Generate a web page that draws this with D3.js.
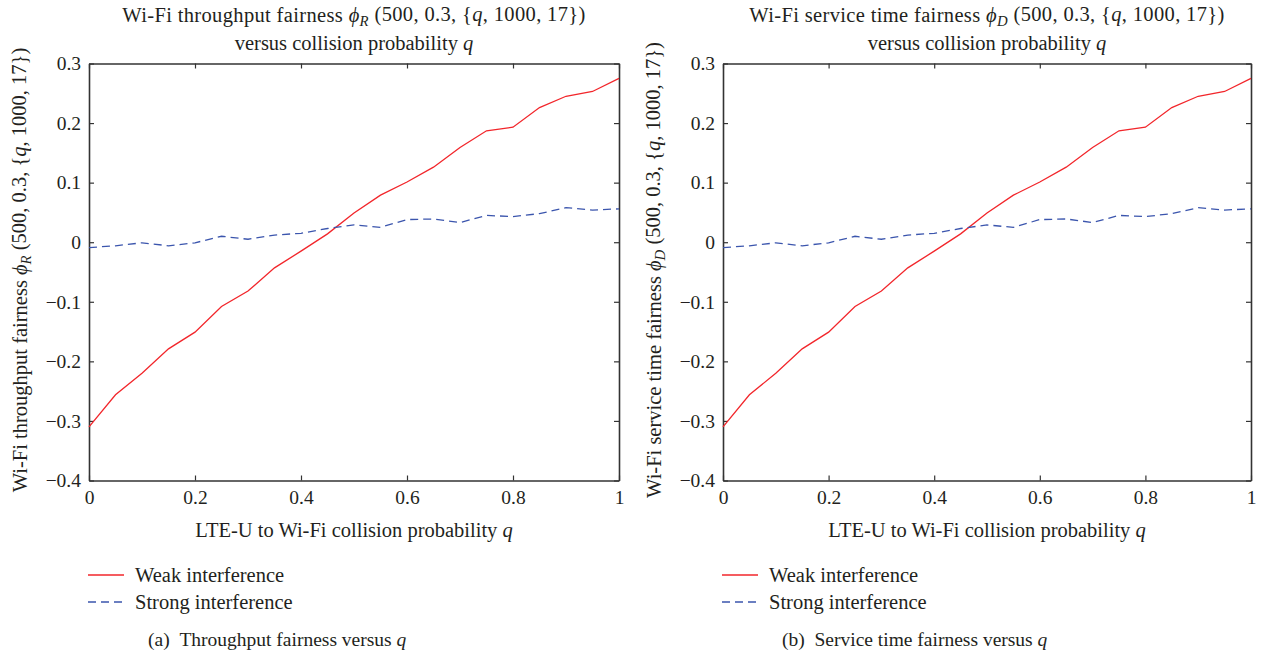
<!DOCTYPE html>
<html>
<head>
<meta charset="utf-8">
<script src="https://cdn.jsdelivr.net/npm/d3@7"></script>
<style>
  html, body { margin: 0; padding: 0; background: #fff; }
  svg { display: block; }
  text { font-family: "Liberation Serif", "Times New Roman", serif; fill: #231f20; }
</style>
</head>
<body>
<svg id="chart" width="1264" height="656"></svg>
<script>
// ---- data ----
const qValues = [0, 0.05, 0.1, 0.15, 0.2, 0.25, 0.3, 0.35, 0.4, 0.45, 0.5, 0.55, 0.6, 0.65, 0.7, 0.75, 0.8, 0.85, 0.9, 0.95, 1];
const throughputWeak   = [-0.310, -0.256, -0.220, -0.179, -0.151, -0.108, -0.082, -0.043, -0.015, 0.014, 0.049, 0.079, 0.101, 0.126, 0.159, 0.187, 0.193, 0.226, 0.245, 0.253, 0.275];
const throughputStrong = [-0.009, -0.006, -0.001, -0.006, -0.001, 0.010, 0.005, 0.012, 0.015, 0.023, 0.029, 0.025, 0.038, 0.039, 0.033, 0.045, 0.043, 0.048, 0.058, 0.054, 0.056];
const serviceWeak      = [-0.310, -0.256, -0.220, -0.179, -0.151, -0.108, -0.082, -0.043, -0.015, 0.014, 0.049, 0.079, 0.101, 0.126, 0.159, 0.187, 0.193, 0.226, 0.245, 0.253, 0.275];
const serviceStrong    = [-0.009, -0.006, -0.001, -0.006, -0.001, 0.010, 0.005, 0.012, 0.015, 0.023, 0.029, 0.025, 0.038, 0.039, 0.033, 0.045, 0.043, 0.048, 0.058, 0.054, 0.056];
const xTicks = [0, 0.2, 0.4, 0.6, 0.8, 1];
const yTicks = [0.3, 0.2, 0.1, 0, -0.1, -0.2, -0.3, -0.4];
const seriesNames = ["Weak interference", "Strong interference"];

const panels = [
  { left: 89, right: 619, sub: "R", titleWord: "throughput", caption: "Throughput fairness versus ", tag: "(a)",
    weak: throughputWeak, strong: throughputStrong },
  { left: 723, right: 1251, sub: "D", titleWord: "service time", caption: "Service time fairness versus ", tag: "(b)",
    weak: serviceWeak, strong: serviceStrong }
];

const plotTop = 63.5, plotBottom = 480.5;
const svg = d3.select("#chart");
const RED = "#f2262b", BLUE = "#3b55ad", AXIS = "#333";
const FS = 20.5;

function fmtY(d) {
  if (d === 0) return "0";
  const s = Math.abs(d).toFixed(1);
  return (d < 0 ? "\u2212" : "") + s;
}
function fmtX(d) {
  if (d === 0) return "0";
  if (d === 1) return "1";
  return d.toFixed(1);
}

// writes "Wi-Fi <word> fairness ϕ_S (500, 0.3, {q, 1000, 17})"
function phiText(sel, word, sub) {
  sel.append("tspan").text("Wi-Fi " + word + " fairness ");
  sel.append("tspan").attr("font-style", "italic").text("\u03D5");
  sel.append("tspan").attr("font-style", "italic").attr("font-size", "0.72em").attr("dy", "0.25em").text(sub);
  sel.append("tspan").attr("dy", "-0.25em").text(" (500, 0.3, {");
  sel.append("tspan").attr("font-style", "italic").text("q");
  sel.append("tspan").text(", 1000, 17})");
}

panels.forEach(p => {
  const x = d3.scaleLinear().domain([0, 1]).range([p.left, p.right]);
  const y = d3.scaleLinear().domain([-0.4, 0.3]).range([plotBottom, plotTop]);
  const g = svg.append("g");
  const cx = (p.left + p.right) / 2;

  // axes (MATLAB box with inward ticks)
  const axB = g.append("g").attr("transform", `translate(0,${plotBottom})`)
    .call(d3.axisBottom(x).tickValues(xTicks).tickFormat(fmtX).tickSizeInner(-5).tickSizeOuter(0).tickPadding(9));
  const axT = g.append("g").attr("transform", `translate(0,${plotTop})`)
    .call(d3.axisTop(x).tickValues(xTicks).tickFormat("").tickSizeInner(-5).tickSizeOuter(0));
  const axL = g.append("g").attr("transform", `translate(${p.left},0)`)
    .call(d3.axisLeft(y).tickValues(yTicks).tickFormat(fmtY).tickSizeInner(-5).tickSizeOuter(0).tickPadding(8));
  const axR = g.append("g").attr("transform", `translate(${p.right},0)`)
    .call(d3.axisRight(y).tickValues(yTicks).tickFormat("").tickSizeInner(-5).tickSizeOuter(0));
  [axB, axT, axL, axR].forEach(a => {
    a.select(".domain").attr("stroke", AXIS).attr("stroke-width", 1.6);
    a.selectAll(".tick line").attr("stroke", AXIS).attr("stroke-width", 1.2);
    a.selectAll(".tick text").attr("font-family", "Liberation Serif").attr("font-size", 19.5).attr("fill", "#231f20");
  });
  axB.selectAll(".tick text").attr("dy", "0.72em");

  // lines
  const line = d3.line().x((d, i) => x(qValues[i])).y(d => y(d));
  g.append("path").datum(p.weak).attr("d", line).attr("fill", "none")
    .attr("stroke", RED).attr("stroke-width", 1.3);
  g.append("path").datum(p.strong).attr("d", line).attr("fill", "none")
    .attr("stroke", BLUE).attr("stroke-width", 1.3).attr("stroke-dasharray", "8,5");

  // title
  const t1 = g.append("text").attr("x", cx).attr("y", 22).attr("text-anchor", "middle").attr("font-size", FS)
    .attr("letter-spacing", 0.35);
  phiText(t1, p.titleWord, p.sub);
  const t2 = g.append("text").attr("x", cx).attr("y", 50).attr("text-anchor", "middle").attr("font-size", FS);
  t2.append("tspan").text("versus collision probability ");
  t2.append("tspan").attr("font-style", "italic").text("q");

  // y label
  const yl = g.append("text")
    .attr("transform", `translate(${p.left - 62},${(plotTop + plotBottom) / 2 - 2}) rotate(-90)`)
    .attr("text-anchor", "middle").attr("font-size", FS);
  phiText(yl, p.titleWord, p.sub);

  // x label
  const xl = g.append("text").attr("x", cx).attr("y", 537).attr("text-anchor", "middle").attr("font-size", FS);
  xl.append("tspan").text("LTE-U to Wi-Fi collision probability ");
  xl.append("tspan").attr("font-style", "italic").text("q");

  // legend
  const lg = g.append("g");
  const lx0 = p.left - 1, lx1 = p.left + 35;
  seriesNames.forEach((name, i) => {
    const ly = 575 + i * 27;
    lg.append("line").attr("x1", lx0).attr("x2", lx1).attr("y1", ly).attr("y2", ly)
      .attr("stroke", i === 0 ? RED : BLUE).attr("stroke-width", 1.3)
      .attr("stroke-dasharray", i === 0 ? null : "8,5");
    lg.append("text").attr("x", p.left + 46).attr("y", ly + 7).attr("font-size", FS).text(name);
  });

  // caption
  const cap = g.append("text").attr("x", p.left + 59).attr("y", 646).attr("font-size", 19.5);
  cap.append("tspan").text(p.tag + "\u2002" + p.caption);
  cap.append("tspan").attr("font-style", "italic").text("q");
});
</script>
</body>
</html>
